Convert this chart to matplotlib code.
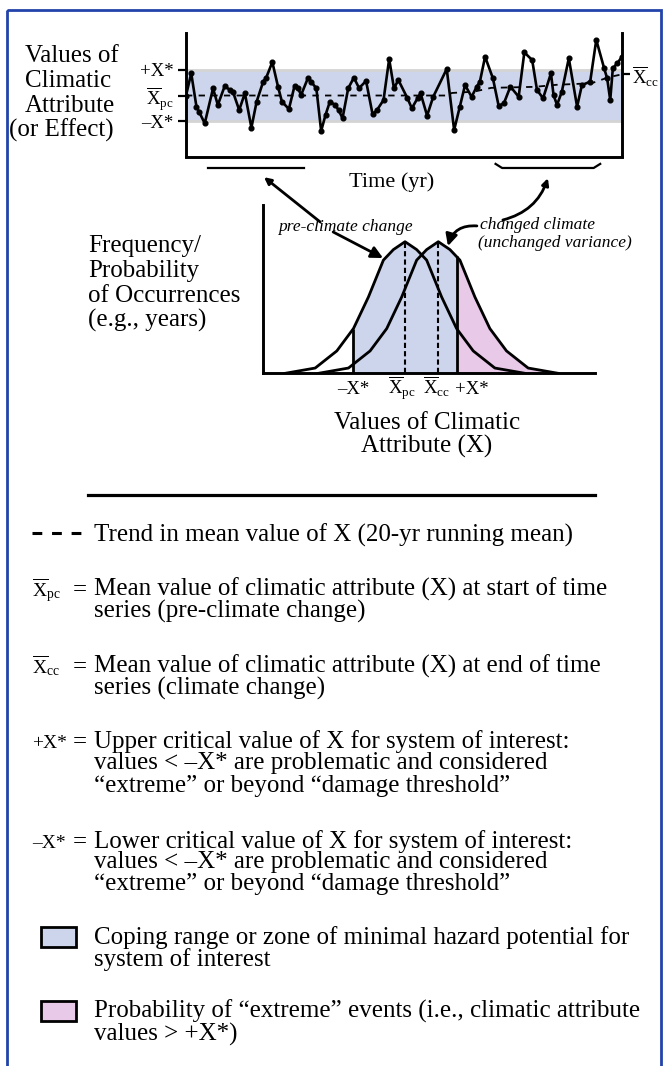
import matplotlib
matplotlib.use('Agg')
import matplotlib.pyplot as plt
from matplotlib.patches import Rectangle

plt.rcParams['font.family'] = ['Liberation Serif', 'DejaVu Serif']
plt.rcParams['mathtext.fontset'] = 'custom'
plt.rcParams['mathtext.rm'] = 'Liberation Serif'
plt.rcParams['mathtext.it'] = 'Liberation Serif:italic'

W, H = 666, 1066
BLUE = '#cdd5ec'
PINK = '#e8c9e8'
FRAME = '#2244aa'

# ---- time series (years, value in units of the critical value X*) ----
years = [0, 1.2, 2.4, 3.0, 4.3, 6.2, 7.3, 8.9, 10.0, 10.8, 12.2, 13.5, 15.0, 16.2,
         17.7, 18.4, 19.8, 21.1, 22.0, 23.6, 24.9, 25.7, 26.4, 28.0, 28.7, 29.9,
         31.0, 32.0, 33.0, 34.2, 35.0, 35.9, 37.2, 38.5, 39.7, 41.3, 42.8, 43.8,
         45.3, 46.6, 47.7, 48.7, 50.8, 51.8, 53.1, 53.8, 55.3, 56.7, 59.8, 61.5,
         62.8, 64.0, 65.5, 66.7, 67.4, 68.6, 70.4, 71.7, 72.9, 74.4, 76.3, 77.6,
         79.4, 80.5, 81.9, 83.7, 84.3, 85.1, 86.2, 87.8, 89.7, 90.8, 92.7, 94.1,
         95.9, 96.6, 97.3, 97.9, 98.9, 100.0]
values = [0.0, 0.87, -0.44, -0.64, -1.09, 0.28, -0.37, 0.38, 0.22, 0.13, -0.57, 0.09,
          -1.26, -0.24, 0.54, 0.70, 1.31, 0.35, -0.24, -0.53, 0.38, 0.28, 0.02, 0.70,
          0.54, 0.28, -1.39, -0.76, -0.24, -0.37, -0.57, -0.89, 0.28, 0.70, 0.29, 0.57,
          -0.74, -0.57, -0.18, 1.43, 0.28, 0.61, -0.11, -0.50, -0.11, 0.09, -0.79, -0.05,
          1.04, -1.35, -0.44, 0.41, -0.05, 0.35, 0.54, 1.52, 0.67, -0.40, -0.31, 0.35,
          -0.05, 1.69, 1.39, 0.22, -0.11, 0.87, 0.02, -0.37, 0.15, 1.46, -0.44, 0.41,
          0.54, 2.18, 1.07, 0.67, -0.18, 1.07, 1.26, 1.52]
trend_years = [0, 60, 61, 66, 70, 80, 85, 93, 97, 100]
trend_values = [0, 0, 0.10, 0.15, 0.30, 0.34, 0.42, 0.48, 0.72, 0.83]
x_crit = 1.0
x_cc_end = 0.83
pre_period = (5, 27)
cc_period = (71, 95)

# ---- frequency distributions (X in units of the mean shift) ----
pre_x = [-3.6, -2.7, -2.05, -1.55, -1.1, -0.65, -0.35, 0.0, 0.35, 0.65, 1.1, 1.55, 2.05, 2.7, 3.6]
pre_f = [0.0, 0.04, 0.17, 0.34, 0.58, 0.86, 0.94, 1.0, 0.94, 0.86, 0.58, 0.34, 0.17, 0.04, 0.0]
cc_x = [-2.6, -1.7, -1.05, -0.55, -0.1, 0.35, 0.65, 1.0, 1.35, 1.65, 2.1, 2.55, 3.05, 3.7, 4.6]
cc_f = [0.0, 0.04, 0.17, 0.34, 0.58, 0.86, 0.94, 1.0, 0.94, 0.86, 0.58, 0.34, 0.17, 0.04, 0.0]
dist_crit = 1.55
dist_pc, dist_cc = 0.0, 1.0
minus_top, plus_top, peak = 0.34, 0.89, 1.0

XPC = r'$\overline{\mathrm{X}}_{\mathrm{pc}}$'
XCC = r'$\overline{\mathrm{X}}_{\mathrm{cc}}$'


def box(l, t, r, b):
    return [l / W, 1 - b / H, (r - l) / W, (b - t) / H]


fig = plt.figure(figsize=(W / 100, H / 100), dpi=100)
bg = fig.add_axes([0, 0, 1, 1])
bg.set_xlim(0, W)
bg.set_ylim(H, 0)
bg.axis('off')
bg.add_patch(Rectangle((7, 10), 654, 1100, fill=False, ec=FRAME, lw=2))

# ---------------- time series panel ----------------
ts = fig.add_axes(box(186, 33, 622, 156.5))
ts.set_xlim(0, 100)
ts.set_ylim(-2.39, 2.45)
ts.patch.set_alpha(0)
ts.spines['top'].set_visible(False)
for s in ['left', 'right', 'bottom']:
    ts.spines[s].set_linewidth(2.1)
ts.axhspan(-x_crit, x_crit, facecolor=BLUE, edgecolor='#d4d4d4', lw=2, zorder=1)
ts.plot(trend_years, trend_values, color='k', lw=1.3, ls=(0, (3.5, 3.5)), zorder=2)
ts.plot(years, values, color='k', lw=1.9, marker='o', ms=3.4, zorder=3)
ts.set_xticks([])
ts.set_yticks([x_crit, 0, -x_crit])
ts.set_yticklabels(['+X*', XPC, '–X*'], fontsize=13.5)
ts.tick_params(axis='y', length=6, width=1.6, pad=3)
rt = ts.twinx()
rt.set_ylim(ts.get_ylim())
rt.set_yticks([x_cc_end])
rt.set_yticklabels([XCC], fontsize=13.5)
rt.tick_params(length=6, width=1.6, pad=1)
for s in rt.spines.values():
    s.set_visible(False)

# brackets marking the two periods
vb = -2.84
ts.plot(pre_period, [vb, vb], color='k', lw=1.6, clip_on=False)
p0, p1 = cc_period
ts.plot([p0, p0 + 1.5, p1 - 1.5, p1], [vb + 0.16, vb, vb, vb + 0.16],
        color='k', lw=1.6, clip_on=False)

bg.text(392, 187, 'Time (yr)', ha='center', va='baseline', fontsize=16)
for txt, x, yb in [('Values of', 25, 62), ('Climatic', 25, 87),
                   ('Attribute', 25, 112), ('(or Effect)', 9, 137)]:
    bg.text(x, yb, txt, ha='left', va='baseline', fontsize=18)

# ---------------- distribution panel ----------------
ds = fig.add_axes(box(263.3, 205, 595, 373.3))
ds.set_xlim(-4.26, 5.71)
ds.set_ylim(0, 1.279)
ds.patch.set_alpha(0)
ds.spines['top'].set_visible(False)
ds.spines['right'].set_visible(False)
for s in ['left', 'bottom']:
    ds.spines[s].set_linewidth(2.1)
ds.set_xticks([])
ds.set_yticks([])

coping = Rectangle((-dist_crit, 0), 2 * dist_crit, 2, transform=ds.transData)
extreme = Rectangle((dist_crit, 0), 10, 2, transform=ds.transData)
for xs, fs in [(pre_x, pre_f), (cc_x, cc_f)]:
    poly, = ds.fill(xs, fs, color=BLUE, lw=0, zorder=1)
    poly.set_clip_path(coping)
poly, = ds.fill(cc_x, cc_f, color=PINK, lw=0, zorder=1)
poly.set_clip_path(extreme)
ds.plot(pre_x, pre_f, color='k', lw=2, zorder=3)
ds.plot(cc_x, cc_f, color='k', lw=2, zorder=3)
ds.vlines([-dist_crit, dist_crit], 0, [minus_top, plus_top], colors='k', lw=2, zorder=3)
ds.vlines([dist_pc, dist_cc], 0, peak, colors='k', lw=1.5, linestyles=(0, (2.5, 1.5)), zorder=2)

yl = -0.157
ds.text(-dist_crit, yl, '–X*', ha='center', va='baseline', fontsize=13.5)
ds.text(dist_pc - 0.1, yl, XPC, ha='center', va='baseline', fontsize=13.5)
ds.text(dist_cc - 0.05, yl, XCC, ha='center', va='baseline', fontsize=13.5)
ds.text(dist_crit - 0.05, yl, '+X*', ha='left', va='baseline', fontsize=13.5)

bg.text(427, 429, 'Values of Climatic', ha='center', va='baseline', fontsize=18)
bg.text(427, 453, 'Attribute (X)', ha='center', va='baseline', fontsize=18)
for txt, yb in [('Frequency/', 252), ('Probability', 277),
                ('of Occurrences', 302), ('(e.g., years)', 327)]:
    bg.text(88, yb, txt, ha='left', va='baseline', fontsize=18)

ds.text(-3.81, 1.084, 'pre-climate change', style='italic', fontsize=12.5, va='baseline')
ds.text(2.25, 1.10, 'changed climate', style='italic', fontsize=12.5, va='baseline')
ds.text(2.19, 0.962, '(unchanged variance)', style='italic', fontsize=12.5, va='baseline')

head = dict(arrowstyle='-|>,head_length=0.5,head_width=0.25', color='k', lw=2,
            mutation_scale=14, shrinkA=0, shrinkB=0)
ds.annotate('', xy=(-0.66, 0.876), xytext=(-2.16, 1.074), arrowprops=head)
ds.annotate('', xy=(1.29, 0.967), xytext=(2.16, 1.12),
            arrowprops=dict(head, connectionstyle='arc3,rad=0.4'))
small = dict(arrowstyle='-|>,head_length=0.4,head_width=0.2', color='k', lw=2,
             mutation_scale=10, shrinkA=0, shrinkB=0)
ds.annotate('', xy=(17.9, -3.2), xycoords=ts.transData,
            xytext=(-2.55, 1.15), textcoords=ds.transData,
            arrowprops=small, annotation_clip=False)
ds.annotate('', xy=(83.0, -3.24), xycoords=ts.transData,
            xytext=(2.94, 1.165), textcoords=ds.transData,
            arrowprops=dict(small, connectionstyle='arc3,rad=0.27'), annotation_clip=False)

# ---------------- legend ----------------
bg.plot([88, 595], [495, 495], color='k', lw=2.3)
bg.plot([32, 82], [533, 533], color='k', lw=2.2, ls=(0, (3.2, 3.2)))
bg.text(94, 542, 'Trend in mean value of X (20-yr running mean)', va='baseline', fontsize=18)

entries = [
    (XPC, 14, [596, 618], ['Mean value of climatic attribute (X) at start of time',
                           'series (pre-climate change)']),
    (XCC, 14, [673, 695], ['Mean value of climatic attribute (X) at end of time',
                           'series (climate change)']),
    ('+X*', 14, [748, 769, 792], ['Upper critical value of X for system of interest:',
                                  'values < –X* are problematic and considered',
                                  '“extreme” or beyond “damage threshold”']),
    ('–X*', 14, [848, 868, 890], ['Lower critical value of X for system of interest:',
                                  'values < –X* are problematic and considered',
                                  '“extreme” or beyond “damage threshold”']),
]
for sym, fs, ys, lines in entries:
    bg.text(32, ys[0], sym, va='baseline', fontsize=fs)
    bg.text(73, ys[0], '=', va='baseline', fontsize=18)
    for yb, line in zip(ys, lines):
        bg.text(94, yb, line, va='baseline', fontsize=18)

for color, top, ys, lines in [
        (BLUE, 927, [944, 966], ['Coping range or zone of minimal hazard potential for',
                                 'system of interest']),
        (PINK, 1001, [1018, 1041], ['Probability of “extreme” events (i.e., climatic attribute',
                                    'values > +X*)'])]:
    bg.add_patch(Rectangle((41, top), 35, 20, facecolor=color, edgecolor='k', lw=2))
    for yb, line in zip(ys, lines):
        bg.text(94, yb, line, va='baseline', fontsize=18)

fig.savefig('out.png', dpi=100)
